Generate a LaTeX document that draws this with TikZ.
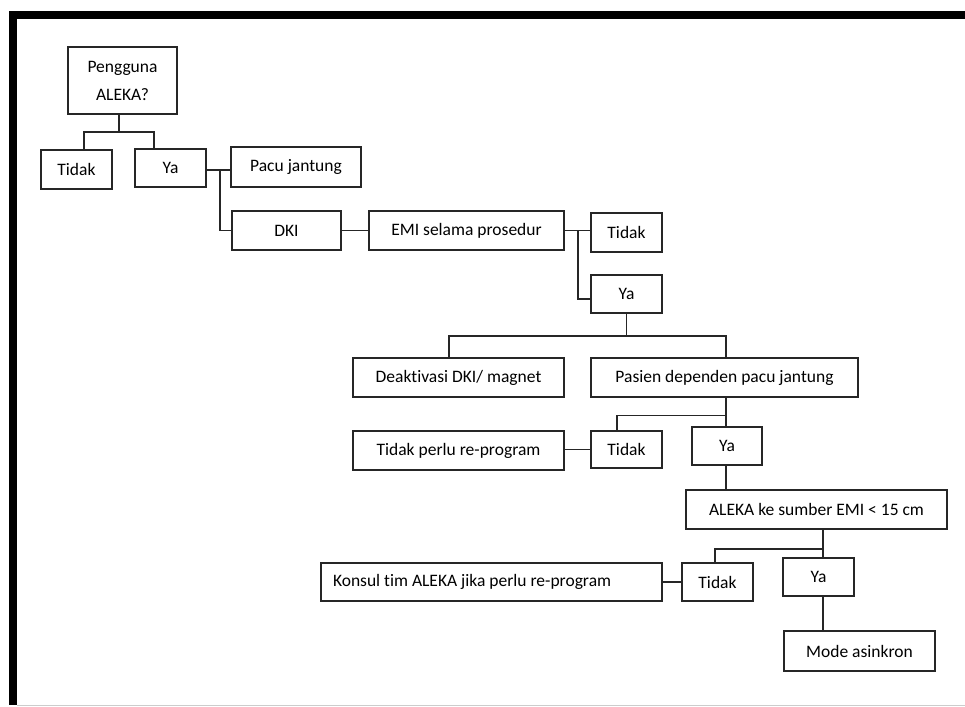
\documentclass[tikz,border=0pt]{standalone}
\usepackage{fontspec}
\setmainfont{Carlito}[Ligatures=NoCommon]
\begin{document}
\begin{tikzpicture}[x=1pt,y=-1pt,
  box/.style={draw=black!85, line width=1.5pt, inner sep=0pt, font=\fontsize{17.5}{20}\selectfont, text=black, align=center},
  ln/.style={draw=black!85, line width=1.5pt}]
\useasboundingbox (0,0) rectangle (965,706);
\fill[white] (0,0) rectangle (965,706);
% frame
\fill[black] (9,11) rectangle (965,19);
\fill[black] (9,11) rectangle (17,705);
\draw[black!20, line width=1pt] (17,705) -- (965,705);
% nodes
\node[box, minimum width=109pt, minimum height=67pt, font=\fontsize{17.5}{28}\selectfont] (q) at (122.5,80.5) {Pengguna\\ALEKA?};
\node[box, minimum width=71pt, minimum height=39pt] (t1) at (76.5,169.5) {Tidak};
\node[box, minimum width=71pt, minimum height=38pt] (y1) at (170.5,168) {Ya};
\node[box, minimum width=130pt, minimum height=40pt] (pj) at (296,167) {Pacu jantung};
\node[box, minimum width=109pt, minimum height=39pt] (dki) at (286.5,230.5) {DKI};
\node[box, minimum width=195pt, minimum height=39pt] (emi) at (466.5,230.5) {EMI selama prosedur};
\node[box, minimum width=71pt, minimum height=39pt] (t2) at (626.5,232.5) {Tidak};
\node[box, minimum width=71pt, minimum height=38pt] (y2) at (626.5,294) {Ya};
\node[box, minimum width=211pt, minimum height=39pt] (dk) at (458.5,377.5) {Deaktivasi DKI/ magnet};
\node[box, minimum width=267pt, minimum height=39pt] (pd) at (724.5,377.5) {Pasien dependen pacu jantung};
\node[box, minimum width=71pt, minimum height=37pt] (t3) at (626.5,449.5) {Tidak};
\node[box, minimum width=70pt, minimum height=38pt] (y3) at (727,446) {Ya};
\node[box, minimum width=211pt, minimum height=39pt] (tp) at (458.5,450.5) {Tidak perlu re-program};
\node[box, minimum width=261pt, minimum height=39pt] (al) at (816.5,509.5) {ALEKA ke sumber EMI < 15 cm};
\node[box, minimum width=71pt, minimum height=38pt] (t4) at (717.5,582) {Tidak};
\node[box, minimum width=71pt, minimum height=38pt] (y4) at (818.5,577) {Ya};
\node[box, minimum height=38pt, inner xsep=12pt, text width=317pt, align=flush left] (ko) at (491.5,582) {Konsul tim ALEKA jika perlu re-program};
\node[box, minimum width=151pt, minimum height=40pt] (mo) at (859.5,651) {Mode asinkron};
% connectors
\draw[ln] ([xshift=-3.5pt]q.south) -- ++(0,17) coordinate (jq);
\draw[ln] (jq) -| ([xshift=7.5pt]t1.north);
\draw[ln] (jq) -| ([xshift=-16.5pt]y1.north);
\draw[ln] ([yshift=-2pt]y1.east) -- ++(13,0) coordinate (jy);
\draw[ln] (jy) -- (pj.west |- jy);
\draw[ln] (jy) |- (dki.west);
\draw[ln] (dki.east) -- (emi.west);
\draw[ln] (emi.east) -- ++(13,0) coordinate (je);
\draw[ln] (je) -- (t2.west |- je);
\draw[ln] (je) |- ([yshift=-5pt]y2.west);
\draw[ln] (y2.south) -- ++(0,22) coordinate (jy2);
\draw[ln] (jy2) -| ([xshift=-9.5pt]dk.north);
\draw[ln] (jy2) -| ([xshift=1.5pt]pd.north);
\draw[ln] ([xshift=1.5pt]pd.south) -- ++(0,17.5) coordinate (jp);
\draw[ln] (jp) -| ([xshift=-9.5pt]t3.north);
\draw[ln] (jp) -- (jp |- y3.north);
\draw[ln] (t3.west) -- (tp.east |- t3.west);
\draw[ln] (jp |- y3.south) -- (jp |- al.north);
\draw[ln] ([xshift=6.5pt]al.south) -- ++(0,19) coordinate (ja);
\draw[ln] (ja) -| ([xshift=-2.5pt]t4.north);
\draw[ln] (ja) -- (ja |- y4.north);
\draw[ln] (t4.west) -- (ko.east |- t4.west);
\draw[ln] (ja |- y4.south) -- (ja |- mo.north);
\end{tikzpicture}
\end{document}
